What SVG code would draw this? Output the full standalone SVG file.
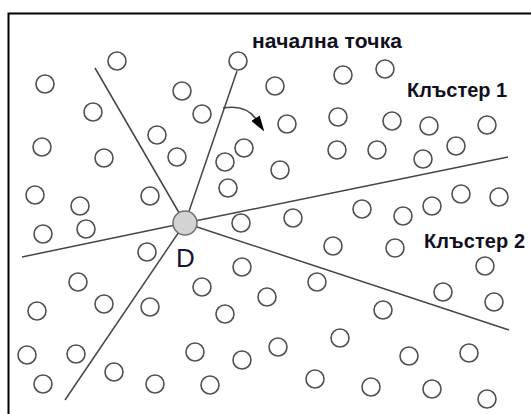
<svg xmlns="http://www.w3.org/2000/svg" width="531" height="414" viewBox="0 0 531 414">
<style>
.p{fill:none;stroke:#505050;stroke-width:1.6}
.ln{stroke:#454545;stroke-width:1.5;fill:none}
.lbl{font-family:"Liberation Sans",Arial,sans-serif;font-weight:bold;fill:#101020}
</style>
<defs>
<marker id="ah" viewBox="0 0 16 10" markerWidth="16" markerHeight="10" refX="1" refY="5" orient="auto" markerUnits="userSpaceOnUse">
<path d="M0,0 L16,5 L0,10 z" fill="#000"/>
</marker>
</defs>
<rect x="0" y="0" width="531" height="414" fill="#fff"/>
<rect x="8.5" y="13.5" width="600" height="500" fill="none" stroke="#000" stroke-width="2"/>
<g id="connectors">
<line class="ln" x1="185" y1="223" x2="95" y2="68"/>
<line class="ln" x1="185" y1="223" x2="237" y2="71"/>
<line class="ln" x1="185" y1="223" x2="508" y2="157"/>
<line class="ln" x1="185" y1="223" x2="509" y2="330"/>
<line class="ln" x1="185" y1="223" x2="65" y2="400"/>
<line class="ln" x1="185" y1="223" x2="22" y2="257"/>
<path id="arrow" class="ln" d="M223,108 Q246,104 256,119" stroke="#000" marker-end="url(#ah)"/>
</g>
<g id="points">
<g id="n1"><circle class="p" cx="117" cy="61" r="9"/></g>
<g id="n2"><circle class="p" cx="45" cy="84" r="9"/></g>
<g id="start"><circle class="p" cx="238" cy="61" r="9" fill="#fff"/></g>
<g id="n4"><circle class="p" cx="182" cy="91" r="9"/></g>
<g id="n5"><circle class="p" cx="275" cy="86" r="9"/></g>
<g id="n6"><circle class="p" cx="202" cy="114" r="9"/></g>
<g id="n7"><circle class="p" cx="287" cy="124" r="9"/></g>
<g id="n8"><circle class="p" cx="343" cy="75" r="9"/></g>
<g id="n9"><circle class="p" cx="385" cy="69" r="9"/></g>
<g id="n10"><circle class="p" cx="338" cy="117" r="9"/></g>
<g id="n11"><circle class="p" cx="392" cy="121" r="9"/></g>
<g id="n12"><circle class="p" cx="429" cy="126" r="9"/></g>
<g id="n13"><circle class="p" cx="487" cy="125" r="9"/></g>
<g id="n14"><circle class="p" cx="93" cy="112" r="9"/></g>
<g id="n15"><circle class="p" cx="157" cy="135" r="9"/></g>
<g id="n16"><circle class="p" cx="42" cy="147" r="9"/></g>
<g id="n17"><circle class="p" cx="104" cy="158" r="9"/></g>
<g id="n18"><circle class="p" cx="177" cy="157" r="9"/></g>
<g id="n19"><circle class="p" cx="225" cy="162" r="9"/></g>
<g id="n20"><circle class="p" cx="244" cy="148" r="9"/></g>
<g id="n21"><circle class="p" cx="280" cy="170" r="9"/></g>
<g id="n22"><circle class="p" cx="337" cy="150" r="9"/></g>
<g id="n23"><circle class="p" cx="377" cy="150" r="9"/></g>
<g id="n24"><circle class="p" cx="423" cy="159" r="9"/></g>
<g id="n25"><circle class="p" cx="456" cy="146" r="9"/></g>
<g id="n26"><circle class="p" cx="35" cy="195" r="9"/></g>
<g id="n27"><circle class="p" cx="80" cy="206" r="9"/></g>
<g id="n28"><circle class="p" cx="150" cy="196" r="9"/></g>
<g id="n29"><circle class="p" cx="228" cy="188" r="9"/></g>
<g id="n30"><circle class="p" cx="43" cy="234" r="9"/></g>
<g id="n31"><circle class="p" cx="86" cy="229" r="9"/></g>
<g id="n32"><circle class="p" cx="147" cy="252" r="9"/></g>
<g id="n33"><circle class="p" cx="241" cy="223" r="9"/></g>
<g id="n34"><circle class="p" cx="293" cy="218" r="9"/></g>
<g id="n35"><circle class="p" cx="362" cy="209" r="9"/></g>
<g id="n36"><circle class="p" cx="403" cy="216" r="9"/></g>
<g id="n37"><circle class="p" cx="432" cy="206" r="9"/></g>
<g id="n38"><circle class="p" cx="461" cy="194" r="9"/></g>
<g id="n39"><circle class="p" cx="499" cy="197" r="9"/></g>
<g id="n40"><circle class="p" cx="333" cy="246" r="9"/></g>
<g id="n41"><circle class="p" cx="395" cy="248" r="9"/></g>
<g id="n42"><circle class="p" cx="485" cy="266" r="9"/></g>
<g id="n43"><circle class="p" cx="78" cy="282" r="9"/></g>
<g id="n44"><circle class="p" cx="37" cy="311" r="9"/></g>
<g id="n45"><circle class="p" cx="104" cy="304" r="9"/></g>
<g id="n46"><circle class="p" cx="150" cy="307" r="9"/></g>
<g id="n47"><circle class="p" cx="202" cy="287" r="9"/></g>
<g id="n48"><circle class="p" cx="242" cy="267" r="9"/></g>
<g id="n49"><circle class="p" cx="267" cy="297" r="9"/></g>
<g id="n50"><circle class="p" cx="317" cy="282" r="9"/></g>
<g id="n51"><circle class="p" cx="225" cy="314" r="9"/></g>
<g id="n52"><circle class="p" cx="443" cy="292" r="9"/></g>
<g id="n53"><circle class="p" cx="494" cy="302" r="9"/></g>
<g id="n54"><circle class="p" cx="383" cy="310" r="9"/></g>
<g id="n55"><circle class="p" cx="27" cy="355" r="9"/></g>
<g id="n56"><circle class="p" cx="76" cy="354" r="9"/></g>
<g id="n57"><circle class="p" cx="43" cy="384" r="9"/></g>
<g id="n58"><circle class="p" cx="114" cy="372" r="9"/></g>
<g id="n59"><circle class="p" cx="155" cy="384" r="9"/></g>
<g id="n60"><circle class="p" cx="195" cy="352" r="9"/></g>
<g id="n61"><circle class="p" cx="242" cy="360" r="9"/></g>
<g id="n62"><circle class="p" cx="278" cy="347" r="9"/></g>
<g id="n63"><circle class="p" cx="210" cy="385" r="9"/></g>
<g id="n64"><circle class="p" cx="340" cy="338" r="9"/></g>
<g id="n65"><circle class="p" cx="315" cy="379" r="9"/></g>
<g id="n66"><circle class="p" cx="409" cy="356" r="9"/></g>
<g id="n67"><circle class="p" cx="469" cy="353" r="9"/></g>
<g id="n68"><circle class="p" cx="371" cy="387" r="9"/></g>
<g id="n69"><circle class="p" cx="432" cy="389" r="9"/></g>
<g id="n70"><circle class="p" cx="487" cy="399" r="9"/></g>
</g>
<g id="D">
<circle cx="185" cy="223" r="12" fill="#d3d3d3" stroke="#707070" stroke-width="1.6"/>
<text x="176" y="267" font-family="'Liberation Sans',Arial,sans-serif" font-size="26" fill="#15153a">D</text>
</g>
<g id="labels">
<text class="lbl" x="252" y="48" font-size="21" textLength="150">начална точка</text>
<text class="lbl" x="407" y="97" font-size="20" textLength="100">Клъстер 1</text>
<text class="lbl" x="424" y="248" font-size="20" textLength="101">Клъстер 2</text>
</g>
</svg>
